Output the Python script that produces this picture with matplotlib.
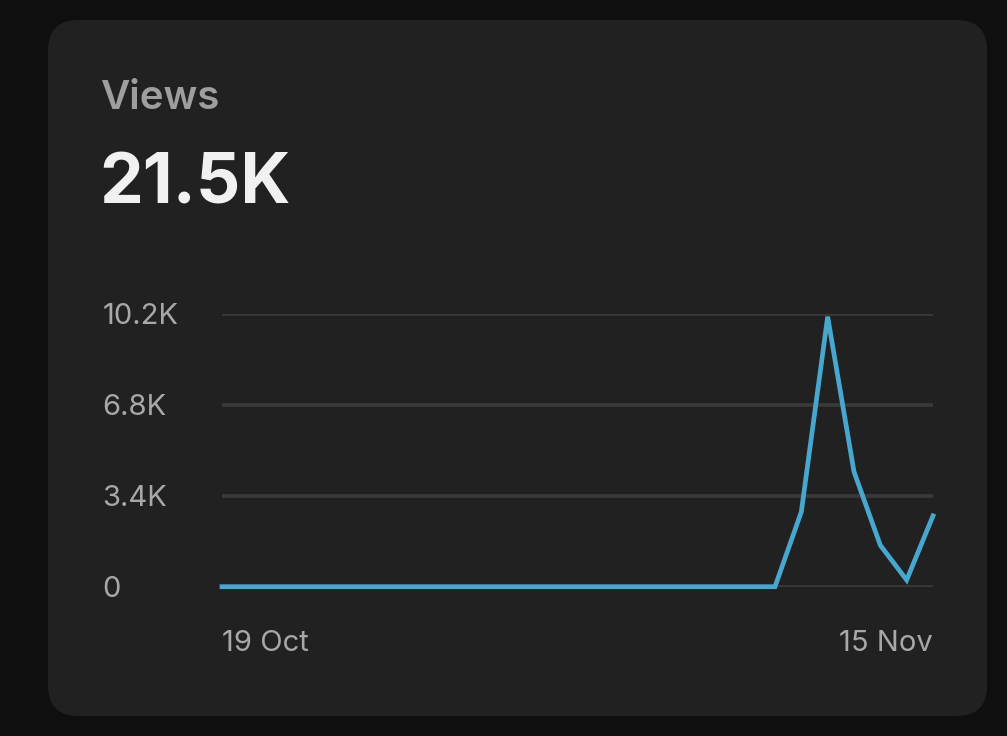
import matplotlib.pyplot as plt
from matplotlib.patches import FancyBboxPatch

plt.rcParams['font.family'] = ['Inter', 'DejaVu Sans']

# daily views, 19 Oct .. 15 Nov
days = ["19 Oct", "20 Oct", "21 Oct", "22 Oct", "23 Oct", "24 Oct", "25 Oct",
        "26 Oct", "27 Oct", "28 Oct", "29 Oct", "30 Oct", "31 Oct", "1 Nov",
        "2 Nov", "3 Nov", "4 Nov", "5 Nov", "6 Nov", "7 Nov", "8 Nov",
        "9 Nov", "10 Nov", "11 Nov", "12 Nov", "13 Nov", "14 Nov", "15 Nov"]
views = [0, 0, 0, 0, 0, 0, 0,
         0, 0, 0, 0, 0, 0, 0,
         0, 0, 0, 0, 0, 0, 0,
         0, 2800, 10100, 4300, 1550, 250, 2650]
y_ticks = [0, 3400, 6800, 10200]
y_labels = ["0", "3.4K", "6.8K", "10.2K"]
title = "Views"
total = "21.5K"

W, H = 1007, 736
fig = plt.figure(figsize=(W / 100, H / 100), dpi=100)
fig.patch.set_facecolor('#0f0f0f')

# the card, kept behind the axes
card = FancyBboxPatch((48 / W, 20 / H), (987 - 48) / W, (716 - 20) / H,
                      boxstyle="round,pad=0,rounding_size=0.03",
                      transform=fig.transFigure, facecolor='#212121',
                      edgecolor='none', mutation_aspect=W / H, zorder=-1)
fig.patches.append(card)

fig.text(100 / W, 1 - 109 / H, title, color='#9e9e9e', fontsize=29,
         fontweight='semibold', ha='left', va='baseline')
fig.text(99 / W, 1 - 203 / H, total, color='#f1f1f1', fontsize=50,
         fontweight='bold', ha='left', va='baseline')

ax = fig.add_axes([222 / W, 1 - 586.7 / H, 711 / W, (586.7 - 314) / H])
ax.set_zorder(2)
ax.set_facecolor('none')
for s in ax.spines.values():
    s.set_visible(False)

for t in y_ticks:
    ax.axhline(t, color='#3a3a3a', lw=2.6, zorder=1)

ax.plot(range(len(views)), views, color='#48a7cf', lw=3.4,
        solid_joinstyle='miter', zorder=3, clip_on=False)

ax.set_xlim(0, len(views) - 1)
ax.set_ylim(0, 10200)

ax.set_yticks(y_ticks)
ax.set_yticklabels(y_labels)
ax.tick_params(axis='y', length=0, pad=86, labelsize=21, labelcolor='#a8a8a8')
for lab in ax.get_yticklabels():
    lab.set_horizontalalignment('left')

ax.set_xticks([0, len(views) - 1])
ax.set_xticklabels([days[0], days[-1]])
ax.tick_params(axis='x', length=0, pad=31, labelsize=21, labelcolor='#a8a8a8')
xl = ax.get_xticklabels()
xl[0].set_horizontalalignment('left')
xl[1].set_horizontalalignment('right')

fig.savefig('out.png', dpi=100, facecolor=fig.get_facecolor())
